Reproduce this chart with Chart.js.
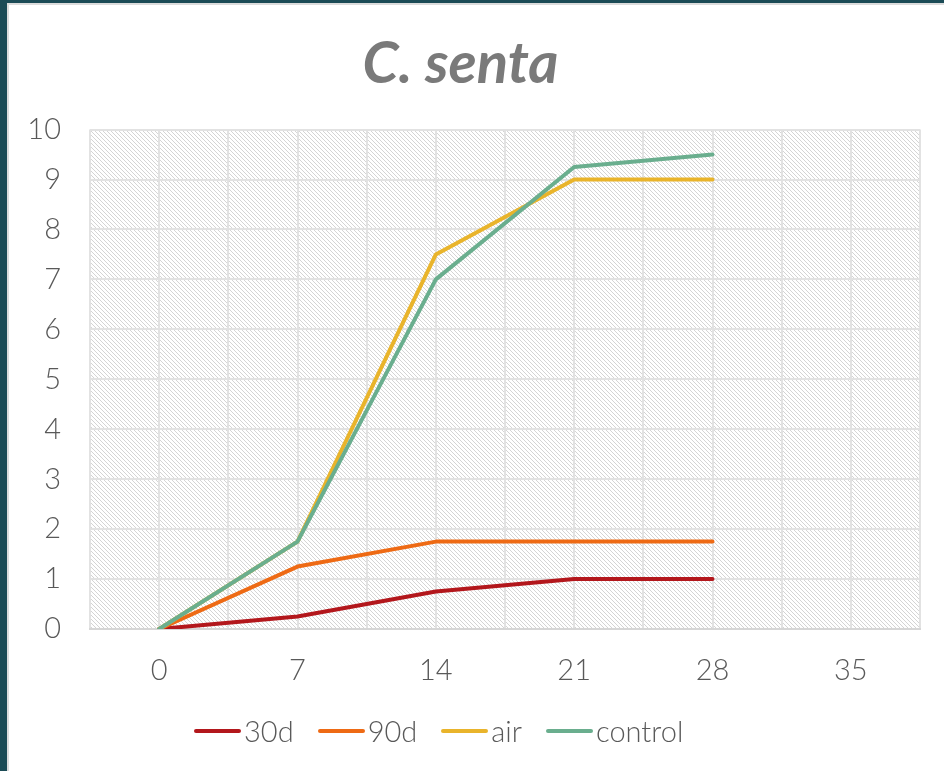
<!DOCTYPE html>
<html>
<head>
<meta charset="utf-8">
<script src="https://cdn.jsdelivr.net/npm/chart.js@4/dist/chart.umd.min.js"></script>
<style>
    html, body { margin: 0; padding: 0; background: #fff; }
    body { width: 944px; height: 771px; position: relative; overflow: hidden; font-family: 'Lato', sans-serif; }
    #wrap { position: absolute; left: 0; top: 0; width: 944px; height: 771px; }
    .frame-left { position: absolute; left: 0; top: 0; width: 7px; height: 771px; background: #1b4b56; }
    .frame-top { position: absolute; left: 0; top: 0; width: 944px; height: 3px; background: #1b4b56; }
    .edge-left { position: absolute; left: 7px; top: 3px; width: 2px; height: 768px; background: #dcdcdc; }
    .edge-top { position: absolute; left: 7px; top: 3px; width: 937px; height: 2px; background: #dcdcdc; }
    #legend { position: absolute; left: 194px; top: 712px; display: flex; align-items: center; height: 38px; }
    .item { display: flex; align-items: center; margin-right: 24px; }
    .swatch { width: 47px; height: 4px; border-radius: 2px; margin-right: 3px; }
    .label { font-size: 29px; font-weight: 300; color: #595959; line-height: 38px; }
</style>
</head>
<body>
<div id="wrap"><canvas id="chart" width="944" height="771"></canvas></div>
<div class="frame-left"></div>
<div class="frame-top"></div>
<div class="edge-left"></div>
<div class="edge-top"></div>
<div id="legend"></div>
<script>
// values
const days = [0, 7, 14, 21, 28];
const seriesNames = ['30d', '90d', 'air', 'control'];
const s30d = [0, 0.25, 0.75, 1, 1];
const s90d = [0, 1.25, 1.75, 1.75, 1.75];
const sAir = [0, 1.75, 7.5, 9, 9];
const sControl = [0, 1.75, 7, 9.25, 9.5];
const seriesColors = ['#b3171c', '#ee6a14', '#e9b42b', '#6aae8e'];

const textGray = '#595959';
const gridGray = '#e2e2e2';

// diagonal hatch for the plot area
function makeHatch() {
    const c = document.createElement('canvas');
    c.width = 4;
    c.height = 4;
    const g = c.getContext('2d');
    g.fillStyle = '#ffffff';
    g.fillRect(0, 0, 4, 4);
    g.fillStyle = '#d4d4d4';
    for (let i = 0; i < 4; i++) g.fillRect(i, i, 1, 1);
    return g.createPattern(c, 'repeat');
}

const hatchPlugin = {
    id: 'hatch',
    beforeDraw(chart) {
        const { ctx, chartArea: a } = chart;
        ctx.save();
        ctx.fillStyle = makeHatch();
        ctx.fillRect(a.left, a.top, a.right - a.left, a.bottom - a.top);
        ctx.restore();
    },
};

const allSeries = [s30d, s90d, sAir, sControl];
const datasets = allSeries.map((vals, i) => ({
    label: seriesNames[i],
    data: vals.map((v, j) => ({ x: days[j], y: v })),
    borderColor: seriesColors[i],
    backgroundColor: seriesColors[i],
    borderWidth: 4,
    borderCapStyle: 'round',
    borderJoinStyle: 'round',
    pointRadius: 0,
    tension: 0,
    order: allSeries.length - i,
}));

new Chart(document.getElementById('chart'), {
    type: 'line',
    data: { datasets },
    plugins: [hatchPlugin],
    options: {
        responsive: false,
        animation: false,
        layout: { padding: { left: 0, right: 23, top: 0, bottom: 0 } },
        plugins: {
            legend: { display: false },
            tooltip: { enabled: false },
            title: {
                display: true,
                text: 'C. senta',
                color: '#7a7a7a',
                font: { family: 'Lato', size: 58, weight: 'bold', style: 'italic' },
                padding: { top: 29, bottom: 31 },
            },
        },
        scales: {
            x: {
                type: 'linear',
                min: -3.5,
                max: 38.5,
                grid: { color: gridGray, lineWidth: 2, drawTicks: false },
                border: { display: true, color: '#d6d6d6', width: 2 },
                ticks: {
                    stepSize: 3.5,
                    padding: 24,
                    color: textGray,
                    font: { family: 'Lato', size: 29, weight: 300 },
                    maxRotation: 0,
                    autoSkip: false,
                    callback: v => (v >= 0 && v % 7 === 0 ? String(v) : ''),
                },
                afterFit(scale) { scale.height = 142; },
            },
            y: {
                min: 0,
                max: 10,
                grid: { color: gridGray, lineWidth: 2, drawTicks: false },
                border: { display: false },
                ticks: {
                    stepSize: 1,
                    padding: 29,
                    color: textGray,
                    font: { family: 'Lato', size: 29, weight: 300 },
                },
                afterFit(scale) { scale.width = 90; },
            },
        },
    },
});

// legend as html so the swatch/text spacing matches
const legend = document.getElementById('legend');
seriesNames.forEach((name, i) => {
    const item = document.createElement('div');
    item.className = 'item';
    const sw = document.createElement('span');
    sw.className = 'swatch';
    sw.style.background = seriesColors[i];
    const lb = document.createElement('span');
    lb.className = 'label';
    lb.textContent = name;
    item.appendChild(sw);
    item.appendChild(lb);
    legend.appendChild(item);
});
</script>
</body>
</html>
